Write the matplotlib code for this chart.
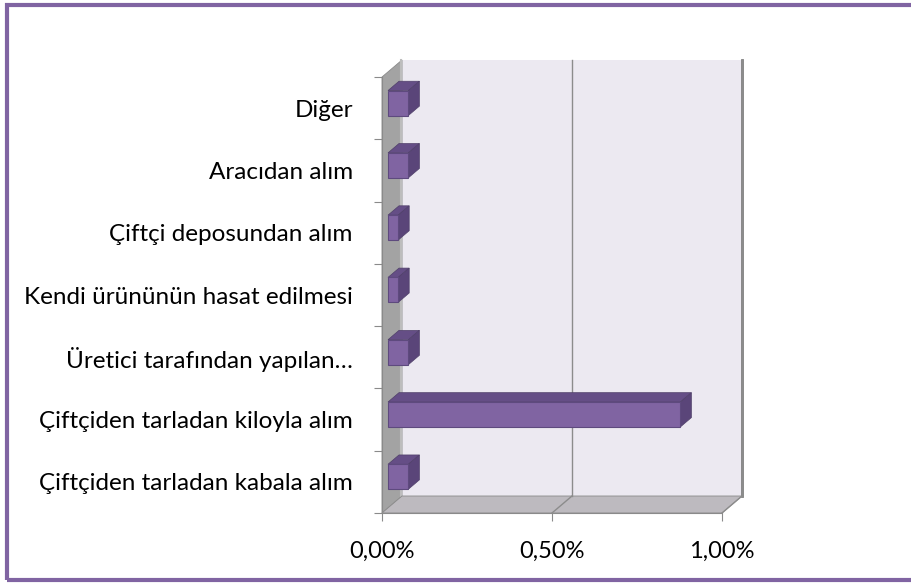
import matplotlib
matplotlib.use("Agg")
import matplotlib.pyplot as plt
from matplotlib.patches import Polygon, Rectangle

# data (percent), bottom to top
categories = [
    "Çiftçiden tarladan kabala alım",
    "Çiftçiden tarladan kiloyla alım",
    "Üretici tarafından yapılan…",
    "Kendi ürününün hasat edilmesi",
    "Çiftçi deposundan alım",
    "Aracıdan alım",
    "Diğer",
]
values = [0.06, 0.86, 0.06, 0.03, 0.03, 0.06, 0.06]
x_ticks = [0.0, 0.5, 1.0]
x_tick_labels = ["0,00%", "0,50%", "1,00%"]

purple = "#8064A2"
bar_top = "#654E86"
bar_side = "#5A4579"
wall_back = "#ECE9F1"
wall_left = "#A3A3A3"
floor_col = "#BDBABF"
grid_col = "#8C8C8C"

plt.rcParams["font.family"] = ["Lato", "DejaVu Sans"]

fig = plt.figure(figsize=(9.12, 5.83), dpi=100)
ax = fig.add_axes([382 / 912, 70 / 583, 340 / 912, 436 / 583])

n = len(categories)
xmax = 1.0
y0, y1 = -0.5, n - 0.5
# depth offset of back wall, in data units
dx = 20 / 340 * xmax
dy = 17 / (436 / n)

ax.set_xlim(0, xmax)
ax.set_ylim(y0, y1)

# back wall
ax.add_patch(Rectangle((dx, y0 + dy), xmax, y1 - y0, facecolor=wall_back,
                       edgecolor="none", zorder=0, clip_on=False))
ax.plot([xmax + dx, xmax + dx], [y0 + dy, y1 + dy], color="#7F7F7F", lw=2,
        zorder=1, clip_on=False)
# left wall
ax.add_patch(Polygon([(0, y0), (0, y1), (dx, y1 + dy), (dx, y0 + dy)],
                     closed=True, facecolor=wall_left, edgecolor="#8A8A8A",
                     lw=0.6, zorder=1, clip_on=False))
ax.plot([dx * 0.93, dx * 0.93], [y0 + dy, y1 + dy], color="#BDBDBD", lw=1.5,
        zorder=1, clip_on=False)
# floor
ax.add_patch(Polygon([(0, y0), (xmax, y0), (xmax + dx, y0 + dy), (dx, y0 + dy)],
                     closed=True, facecolor=floor_col, edgecolor="#8A8A8A",
                     lw=0.6, zorder=1, clip_on=False))
# gridlines
for t in x_ticks[1:]:
    ax.plot([t + dx, t + dx], [y0 + dy, y1 + dy], color=grid_col, lw=1,
            zorder=1, clip_on=False)
    ax.plot([t, t + dx], [y0, y0 + dy], color=grid_col, lw=1, zorder=1,
            clip_on=False)

# 3d bars
f0, f1 = 0.3, 0.85
h = 0.4
for i, v in enumerate(values):
    bx, by = f0 * dx, i - h / 2 + f0 * dy
    ddx, ddy = (f1 - f0) * dx, (f1 - f0) * dy
    ax.add_patch(Polygon([(bx, by + h), (bx + v, by + h),
                          (bx + v + ddx, by + h + ddy), (bx + ddx, by + h + ddy)],
                         closed=True, facecolor=bar_top, edgecolor="#50406A",
                         lw=0.5, zorder=3, clip_on=False))
    ax.add_patch(Polygon([(bx + v, by), (bx + v, by + h),
                          (bx + v + ddx, by + h + ddy), (bx + v + ddx, by + ddy)],
                         closed=True, facecolor=bar_side, edgecolor="#50406A",
                         lw=0.5, zorder=3, clip_on=False))
    ax.add_patch(Rectangle((bx, by), v, h, facecolor=purple, edgecolor="#5E4A7E",
                           lw=0.8, zorder=4, clip_on=False))

for s in ["top", "right"]:
    ax.spines[s].set_visible(False)
for s in ["left", "bottom"]:
    ax.spines[s].set_color("#8A8A8A")
    ax.spines[s].set_linewidth(0.8)

ax.set_yticks([i - 0.5 for i in range(n + 1)])
ax.set_yticklabels([])
ax.set_yticks(range(n), minor=True)
ax.set_yticklabels(categories, minor=True, fontsize=17.5)
ax.tick_params(axis="y", which="major", length=6, color="#8A8A8A")
ax.tick_params(axis="y", which="minor", length=0, pad=21)
ax.set_xticks(x_ticks)
ax.set_xticklabels(x_tick_labels, fontsize=17)
ax.tick_params(axis="x", length=6, color="#8A8A8A", pad=14)

# outer frame (right edge runs off the image, as in the reference)
fig.add_artist(Rectangle((7 / 912, 3 / 583), 920 / 912, 575 / 583,
                         transform=fig.transFigure, fill=False,
                         edgecolor=purple, lw=3))

fig.savefig("out.png", dpi=100)
